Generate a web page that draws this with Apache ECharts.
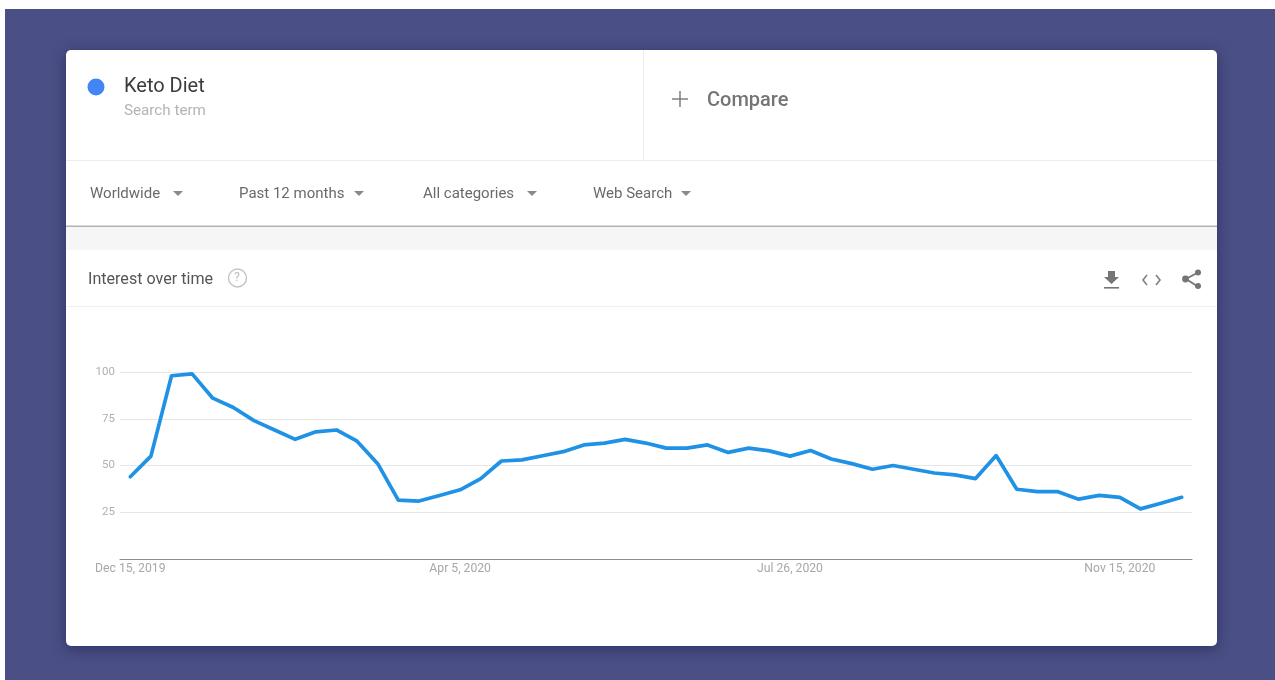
<!DOCTYPE html>
<html><head><meta charset="utf-8">
<style>html,body{margin:0;padding:0;background:#fff;overflow:hidden}#c{width:1275px;height:680px}</style>
<script src="https://cdn.jsdelivr.net/npm/echarts@6/dist/echarts.min.js"></script>
</head><body><div id="c"></div>
<script>
const seriesName = 'Keto Diet';
const weekStart = Date.UTC(2019, 11, 15);
const interest = [44,55,98,99,86,81,74,69,64,68,69,63,51,31.5,31,34,37,43,52.4,53,55.2,57.4,61,62,64,62,59.3,59.3,61,57,59.3,57.8,55,58,53.5,51,48,50,48,46,45,43,55.3,37.3,36,36,32,34,33,26.8,29.8,33];
const categories = interest.map((_, i) => new Date(weekStart + i * 7 * 864e5).toLocaleDateString('en-US', {month:'short', day:'numeric', year:'numeric', timeZone:'UTC'}));
const labelEvery = 16;
const filters = ['Worldwide','Past 12 months','All categories','Web Search'];
const F = 'Roboto, sans-serif';

const txt = (x,y,text,size,fill,extra={}) => ({type:'text',x,y,silent:true,style:Object.assign({text,font:`${extra.weight||400} ${size}px ${F}`,fill,textVerticalAlign:'middle',verticalAlign:'middle'},extra.style||{})});
const rect = (x,y,w,h,fill,extra={}) => Object.assign({type:'rect',silent:true,shape:{x,y,width:w,height:h,r:extra.r||0},style:Object.assign({fill},extra.style||{})},extra.top||{});
const tri = (x,y) => ({type:'polygon',silent:true,shape:{points:[[x,y],[x+10,y],[x+5,y+5]]},style:{fill:'#8a8a8a'}});
const stroke = (pts,color,w) => ({type:'polyline',silent:true,shape:{points:pts},style:{stroke:color,lineWidth:w,fill:null}});
const dot = (x,y,r,fill) => ({type:'circle',silent:true,shape:{cx:x,cy:y,r},style:{fill}});

const chrome = [
  rect(5,9,1270,671,'#4a4f85'),
  rect(66,50,1151,596,'#ffffff',{r:5,style:{shadowBlur:14,shadowColor:'rgba(25,28,70,0.55)',shadowOffsetY:3}}),
  rect(66,160,1151,1,'#ececec'),
  rect(643,50,1,110,'#ececec'),
  rect(66,227,1151,23,'#f6f6f6'),
  rect(66,225.5,1151,1.5,'#b4b4b4'),
  rect(66,306,1151,1,'#f0f0f0'),
  dot(96,87,8.5,'#4285f4'),
  txt(124,87,seriesName,20,'#3c3c3c'),
  txt(124,111,'Search term',15.2,'#b4b4b4'),
  stroke([[672,99],[688,99]],'#777',1.4),
  stroke([[680,91],[680,107]],'#777',1.4),
  txt(707,100.5,'Compare',20,'#757575',{weight:500}),
  txt(90,194.5,filters[0],15,'#6a6a6a'), tri(173,191),
  txt(239,194.5,filters[1],15,'#6a6a6a'), tri(354,191),
  txt(423,194.5,filters[2],15,'#6a6a6a'), tri(527,191),
  txt(593,194.5,filters[3],15,'#6a6a6a'), tri(681,191),
  txt(88,279.5,'Interest over time',16.1,'#555555'),
  {type:'circle',silent:true,shape:{cx:237.5,cy:278,r:9},style:{fill:null,stroke:'#c4c4c4',lineWidth:1.4}},
  txt(234,278,'?',12.5,'#bdbdbd'),
  {type:'polygon',silent:true,shape:{points:[[1108,271],[1115,271],[1115,277],[1119,277],[1111.5,284],[1104,277],[1108,277]]},style:{fill:'#757575'}},
  rect(1104,287,15,1.6,'#757575'),
  stroke([[1147,275],[1143,280],[1147,285]],'#808080',1.6),
  stroke([[1156,275],[1160,280],[1156,285]],'#808080',1.6),
  stroke([[1197,273],[1186,279],[1197,286]],'#757575',1.8),
  dot(1198,272.5,3,'#757575'), dot(1185.5,279,3.4,'#757575'), dot(1198,286,3,'#757575')
];

const chart = echarts.init(document.getElementById('c'));
chart.setOption({
  animation:false,
  backgroundColor:'#ffffff',
  graphic:{elements:chrome.map(e=>Object.assign(e,{z:-10,zlevel:0}))},
  grid:{left:120,top:372,width:1072,height:187,containLabel:false},
  xAxis:{type:'category',data:categories,boundaryGap:true,
    axisLine:{lineStyle:{color:'#8c8c8c',width:1}},axisTick:{show:false},
    axisLabel:{interval:(i)=>i%labelEvery===0,color:'#a8a8a8',fontSize:12.2,fontFamily:F,margin:3,lineHeight:14,hideOverlap:false},
    splitLine:{show:false}},
  yAxis:{type:'value',min:0,max:100,interval:25,
    axisLine:{show:false},axisTick:{show:false},
    axisLabel:{color:'#b0b0b0',fontSize:11.5,fontFamily:F,margin:5,showMinLabel:false,padding:[2,0,0,0]},
    splitLine:{lineStyle:{color:'#e6e6e6',width:1}}},
  series:[{name:seriesName,type:'line',data:interest,symbol:'none',smooth:false,z:5,
    lineStyle:{color:'#2092e6',width:3.7,join:'round',cap:'round'}}]
});
</script></body></html>
